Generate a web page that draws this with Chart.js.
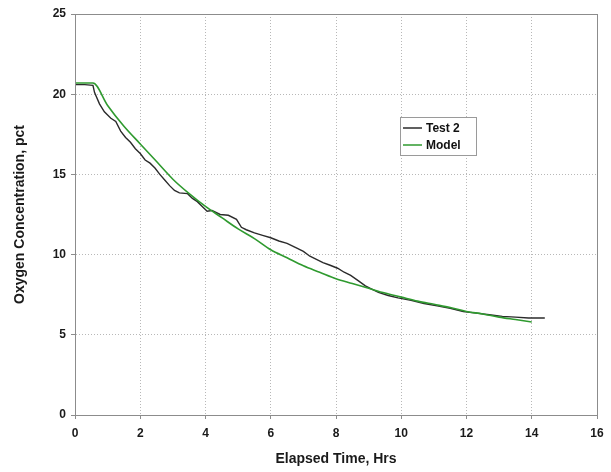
<!DOCTYPE html>
<html lang="en">
<head>
<meta charset="UTF-8" />
<title>Oxygen Concentration</title>
<script src="https://cdn.jsdelivr.net/npm/chart.js"></script>
<style>
  html, body { margin: 0; padding: 0; background: #fff; }
  #wrap { width: 611px; height: 472px; }
</style>
</head>
<body>
<div id="wrap"><canvas id="chart" width="611" height="472"></canvas></div>
<script>
// Test 2 (measured)
const testTime = [0, 0.3, 0.55, 0.6, 0.75, 0.9, 1.1, 1.25, 1.4, 1.55, 1.7, 1.85, 2.0, 2.15, 2.3, 2.45, 2.6, 2.75, 2.9, 3.05, 3.2, 3.45, 3.6, 3.75, 3.9, 4.05, 4.2, 4.45, 4.7, 4.95, 5.1, 5.25, 5.5, 5.75, 6.0, 6.25, 6.5, 6.8, 7.0, 7.2, 7.4, 7.6, 7.8, 8.05, 8.25, 8.45, 8.7, 8.9, 9.05, 9.3, 9.6, 9.9, 10.3, 10.7, 11.1, 11.5, 11.9, 12.3, 12.7, 13.1, 13.5, 13.9, 14.2, 14.4];
const testO2 = [20.6, 20.6, 20.55, 20.1, 19.4, 18.9, 18.5, 18.3, 17.7, 17.3, 17.0, 16.6, 16.3, 15.9, 15.7, 15.4, 15.0, 14.65, 14.3, 14.0, 13.85, 13.8, 13.5, 13.3, 13.0, 12.7, 12.75, 12.5, 12.45, 12.2, 11.7, 11.55, 11.35, 11.2, 11.05, 10.85, 10.7, 10.4, 10.2, 9.9, 9.7, 9.5, 9.35, 9.15, 8.9, 8.7, 8.35, 8.05, 7.9, 7.65, 7.45, 7.3, 7.15, 6.95, 6.8, 6.65, 6.45, 6.35, 6.25, 6.15, 6.1, 6.05, 6.05, 6.05];

// Model
const modelTime = [0, 0.55, 1, 1.5, 2, 2.5, 3, 3.5, 4, 4.5, 5, 5.5, 6, 6.5, 7, 7.5, 8, 8.5, 9, 9.5, 10, 10.5, 11, 11.5, 12, 12.5, 13, 13.5, 14];
const modelO2 = [20.7, 20.7, 19.3, 18.0, 16.9, 15.8, 14.7, 13.8, 13.0, 12.3, 11.6, 11.0, 10.3, 9.8, 9.3, 8.9, 8.5, 8.2, 7.9, 7.6, 7.35, 7.1, 6.9, 6.7, 6.45, 6.3, 6.1, 5.95, 5.8];

const xTicks = [0, 2, 4, 6, 8, 10, 12, 14, 16];
const yTicks = [0, 5, 10, 15, 20, 25];

const testColor = '#2b2b2b';
const modelColor = '#2f9a2f';
const font = 'Liberation Sans, Arial, sans-serif';

function toPoints(xs, ys) {
  return xs.map((x, i) => ({ x, y: ys[i] }));
}

// frame around plot area + legend box inside the plot
const framePlugin = {
  id: 'frame',
  afterDatasetsDraw(chart) {
    const { ctx, chartArea: a } = chart;
    ctx.save();
    ctx.strokeStyle = '#8c8c8c';
    ctx.lineWidth = 1;
    ctx.strokeRect(a.left + 0.5, a.top + 0.5, a.right - a.left, a.bottom - a.top);

    const lx = a.left + 325, ly = a.top + 103, lw = 76, lh = 38;
    ctx.fillStyle = '#fff';
    ctx.fillRect(lx, ly, lw, lh);
    ctx.strokeStyle = '#9a9a9a';
    ctx.strokeRect(lx + 0.5, ly + 0.5, lw, lh);
    ctx.font = 'bold 12px ' + font;
    ctx.textBaseline = 'middle';
    ctx.textAlign = 'left';
    const items = [['Test 2', testColor], ['Model', modelColor]];
    items.forEach((it, i) => {
      const y = ly + 11 + i * 17;
      ctx.strokeStyle = it[1];
      ctx.lineWidth = 1.5;
      ctx.beginPath();
      ctx.moveTo(lx + 3, y);
      ctx.lineTo(lx + 22, y);
      ctx.stroke();
      ctx.fillStyle = '#111';
      ctx.fillText(it[0], lx + 26, y + 1);
    });
    ctx.restore();
  }
};

new Chart(document.getElementById('chart'), {
  type: 'line',
  data: {
    datasets: [
      {
        label: 'Model',
        data: toPoints(modelTime, modelO2),
        borderColor: modelColor,
        borderWidth: 1.6,
        pointRadius: 0,
        cubicInterpolationMode: 'monotone'
      },
      {
        label: 'Test 2',
        data: toPoints(testTime, testO2),
        borderColor: testColor,
        borderWidth: 1.4,
        pointRadius: 0,
        tension: 0
      }
    ]
  },
  options: {
    responsive: false,
    animation: false,
    layout: { padding: { top: 14, right: 14, left: 8, bottom: 0 } },
    plugins: {
      legend: { display: false },
      tooltip: { enabled: false }
    },
    scales: {
      x: {
        type: 'linear',
        min: 0,
        max: 16,
        afterBuildTicks: s => { s.ticks = xTicks.map(v => ({ value: v })); },
        afterFit: s => { s.height = 57; },
        grid: { color: '#b8b8b8', tickColor: '#8c8c8c', tickLength: 4, drawTicks: true },
        border: { display: true, color: '#8c8c8c', dash: [1, 2] },
        ticks: { color: '#1a1a1a', font: { family: font, size: 12, weight: 'bold' }, padding: 7, maxRotation: 0 },
        title: { display: true, text: 'Elapsed Time, Hrs', color: '#1a1a1a', font: { family: font, size: 14, weight: 'bold' }, padding: { top: 11 } }
      },
      y: {
        min: 0,
        max: 25,
        afterBuildTicks: s => { s.ticks = yTicks.map(v => ({ value: v })); },
        afterFit: s => { s.width = 67; },
        grid: { color: '#b8b8b8', tickColor: '#8c8c8c', tickLength: 4, drawTicks: true },
        border: { display: true, color: '#8c8c8c', dash: [1, 2] },
        ticks: { color: '#1a1a1a', font: { family: font, size: 12, weight: 'bold' }, padding: 5 },
        title: { display: true, text: 'Oxygen Concentration, pct', color: '#1a1a1a', font: { family: font, size: 14, weight: 'bold' }, padding: { bottom: 10 } }
      }
    }
  },
  plugins: [framePlugin]
});
</script>
</body>
</html>
